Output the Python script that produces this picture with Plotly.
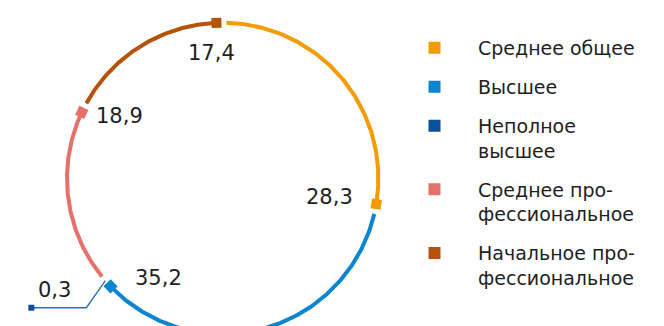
import numpy as np
import plotly.graph_objects as go

# ---------------- data ----------------
categories = ["Среднее общее", "Высшее", "Неполное высшее",
              "Среднее профессиональное", "Начальное профессиональное"]
legend_labels = ["Среднее общее", "Высшее", "Неполное<br>высшее",
                 "Среднее про-<br>фессиональное", "Начальное про-<br>фессиональное"]
values = [28.3, 35.2, 0.3, 18.9, 17.4]
value_labels = ["28,3", "35,2", "0,3", "18,9", "17,4"]
colors = ["#F39C00", "#0A85CF", "#0B4F9E", "#E5716A", "#B5530A"]

# ---------------- layout constants (pixels) ----------------
# the page body has an 8px margin, so the figure is 8px smaller than the window
W, H = 656, 318
CX, CY, RPX = 214.7, 170.4, 155.7      # ring centre and radius in px (figure coords)
START_PAD, END_PAD = 1.4, 2.3          # degrees
FONT = "DejaVu Sans"
TXT = "#1e1e1e"

# label shifts (px) relative to each segment's end marker
label_shift = {0: (-47, 7), 1: (48, 8), 3: (38, -4), 4: (-5, -30)}

total = sum(values)
bounds = np.concatenate([[0], np.cumsum(values)]) / total * 360.0


def pt(theta_deg, r=1.0):
    t = np.radians(theta_deg)
    return r * np.sin(t), r * np.cos(t)


fig = go.Figure()
annotations = []

for i, (cat, v) in enumerate(zip(categories, values)):
    a0, a1 = bounds[i], bounds[i + 1]
    if v < 1:  # tiny segment: leader line
        am = (a0 + a1) / 2
        sx, sy = pt(am)
        ex, ey = sx - 19 / RPX, sy - 27 / RPX
        fx, fy = ex - 55 / RPX, ey
        fig.add_trace(go.Scatter(x=[sx, ex, fx], y=[sy, ey, fy], mode="lines",
                                 line=dict(color="#2B6CB0", width=1.3),
                                 showlegend=False, hoverinfo="skip"))
        fig.add_trace(go.Scatter(x=[fx], y=[fy], mode="markers",
                                 marker=dict(symbol="square", size=6, color=colors[i]),
                                 showlegend=False, hoverinfo="skip"))
        annotations.append(dict(x=fx, y=fy, xref="x", yref="y", text=value_labels[i],
                                showarrow=False, xshift=23, yshift=18,
                                font=dict(family=FONT, size=21, color=TXT)))
        continue
    th = np.linspace(a0 + START_PAD, a1 - END_PAD, 200)
    xs, ys = pt(th)
    fig.add_trace(go.Scatter(x=xs, y=ys, mode="lines",
                             line=dict(color=colors[i], width=4),
                             showlegend=False, hoverinfo="skip"))
    mx, my = pt(a1 - END_PAD)
    fig.add_trace(go.Scatter(x=[mx], y=[my], mode="markers",
                             marker=dict(symbol="square", size=10, color=colors[i],
                                         angle=float(a1 - END_PAD)),
                             showlegend=False, hoverinfo="skip"))
    dx, dy = label_shift[i]
    annotations.append(dict(x=mx, y=my, xref="x", yref="y", text=value_labels[i],
                            showarrow=False, xshift=dx, yshift=dy,
                            font=dict(family=FONT, size=21, color=TXT)))

# legend-only traces
for i, lab in enumerate(legend_labels):
    fig.add_trace(go.Scatter(x=[None], y=[None], mode="markers", name=lab,
                             legendgroup=str(i),
                             marker=dict(symbol="square", size=12, color=colors[i])))

fig.update_layout(
    width=W, height=H,
    margin=dict(l=0, r=0, t=0, b=0),
    paper_bgcolor="white", plot_bgcolor="white",
    xaxis=dict(range=[-CX / RPX, (W - CX) / RPX], visible=False, fixedrange=True),
    yaxis=dict(range=[-(H - CY) / RPX, CY / RPX], visible=False, fixedrange=True),
    showlegend=True,
    legend=dict(x=383 / W, y=1 - 20.8 / H, xanchor="left", yanchor="top",
                font=dict(family=FONT, size=19, color=TXT),
                itemwidth=77, valign="top", tracegroupgap=11.3,
                bgcolor="rgba(0,0,0,0)", traceorder="grouped"),
    annotations=annotations,
)

fig.write_html("out.html")
